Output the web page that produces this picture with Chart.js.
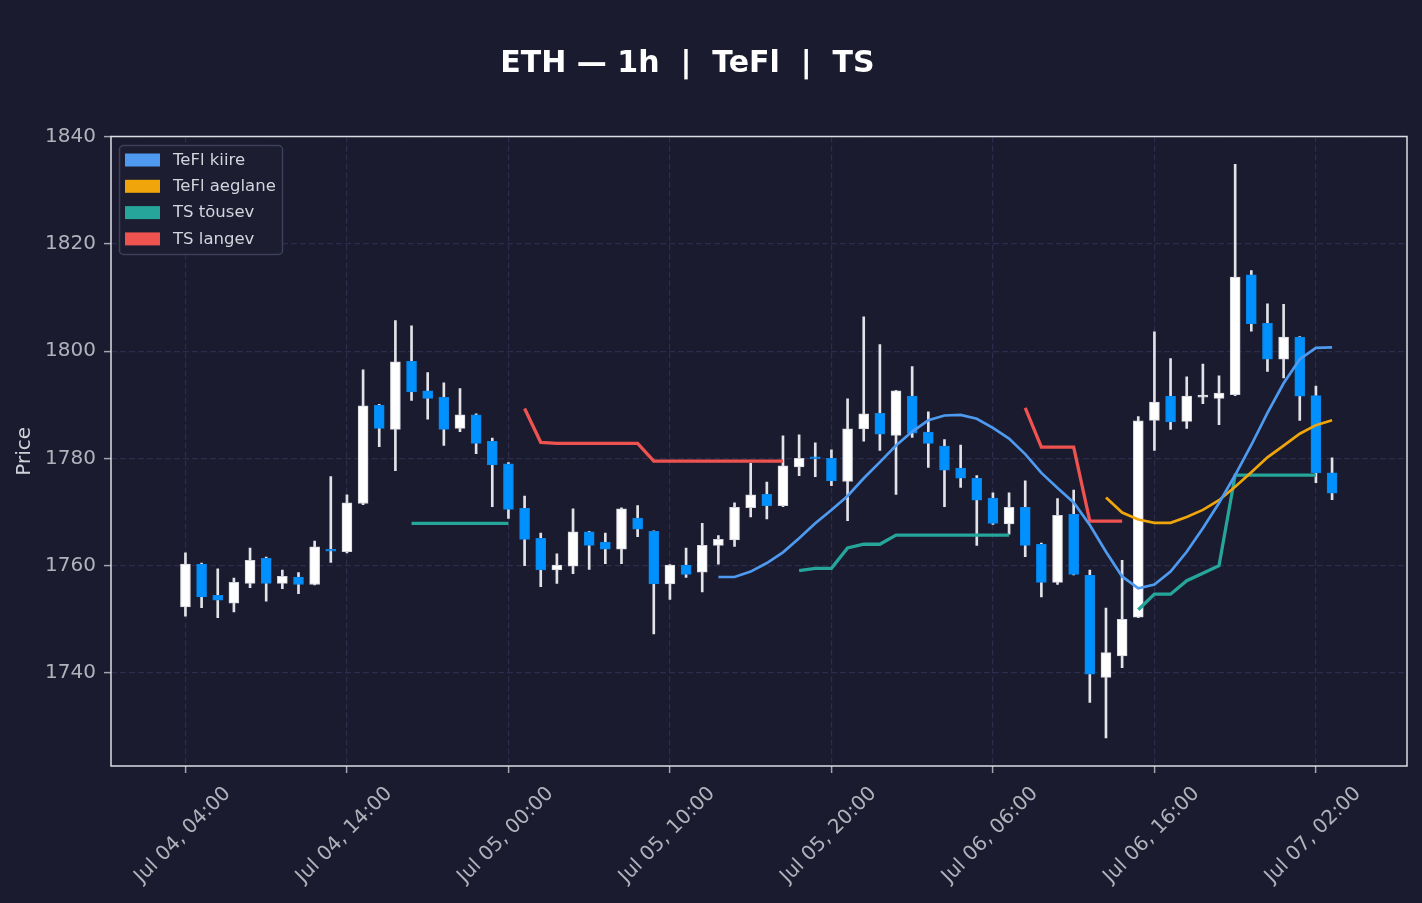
<!DOCTYPE html>
<html>
<head>
<meta charset="utf-8">
<title>ETH — 1h | TeFl | TS</title>
<script src="https://cdn.jsdelivr.net/npm/chart.js@4.4.1/dist/chart.umd.min.js"></script>
<style>
  html, body { margin: 0; padding: 0; background: #1a1b2e; }
  #wrap { width: 1422px; height: 903px; }
</style>
</head>
<body>
<div id="wrap"><canvas id="chart" width="1422" height="903"></canvas></div>
<script>
// hours since Jul 04 04:00, one candle per hour (0..71)
const tickHours = [0, 10, 20, 30, 40, 50, 60, 70];
const tickLabels = ["Jul 04, 04:00", "Jul 04, 14:00", "Jul 05, 00:00", "Jul 05, 10:00",
  "Jul 05, 20:00", "Jul 06, 06:00", "Jul 06, 16:00", "Jul 07, 02:00"];
const priceTicks = [1740, 1760, 1780, 1800, 1820, 1840];

const opens = [
  1752.3, 1760.3, 1754.5, 1753.0, 1756.7, 1761.4, 1756.7, 1757.9, 1756.5, 1762.9,
  1762.6, 1771.6, 1789.9, 1785.4, 1798.1, 1792.6, 1791.4, 1785.6, 1788.1, 1783.2,
  1779.0, 1770.7, 1765.1, 1759.2, 1759.9, 1766.3, 1764.4, 1763.1, 1768.9, 1766.4,
  1756.6, 1760.1, 1758.8, 1763.8, 1764.8, 1770.8, 1773.3, 1771.2, 1778.4, 1780.1,
  1780.0, 1775.7, 1785.5, 1788.4, 1784.3, 1791.6, 1784.9, 1782.3, 1778.2, 1776.3,
  1772.6, 1767.8, 1770.9, 1764.0, 1756.9, 1769.6, 1758.2, 1739.2, 1743.2, 1750.4,
  1787.1, 1791.6, 1786.9, 1791.4, 1791.2, 1791.9, 1814.2, 1805.2, 1798.5, 1802.6,
  1791.7, 1777.3
];
const highs = [
  1762.4, 1760.5, 1759.4, 1757.7, 1763.3, 1761.6, 1759.2, 1758.7, 1764.6, 1776.6,
  1773.2, 1796.5, 1790.1, 1805.7, 1804.7, 1796.0, 1794.1, 1793.0, 1788.3, 1783.8,
  1779.2, 1773.0, 1766.1, 1762.2, 1770.6, 1766.4, 1766.1, 1770.8, 1771.2, 1766.5,
  1760.2, 1763.3, 1767.9, 1765.6, 1771.7, 1779.1, 1775.6, 1784.2, 1784.4, 1782.9,
  1781.6, 1791.1, 1806.4, 1801.2, 1792.7, 1797.1, 1788.7, 1783.5, 1782.5, 1776.8,
  1773.6, 1773.6, 1775.8, 1764.2, 1772.5, 1774.1, 1759.2, 1752.1, 1761.0, 1787.8,
  1803.6, 1798.6, 1795.2, 1797.6, 1795.4, 1834.8, 1815.0, 1808.8, 1808.7, 1802.7,
  1793.5, 1780.1
];
const lows = [
  1750.6, 1752.2, 1750.3, 1751.4, 1755.9, 1753.4, 1755.7, 1754.8, 1756.4, 1760.6,
  1762.4, 1771.4, 1782.2, 1777.7, 1790.8, 1787.3, 1782.4, 1785.0, 1780.9, 1771.0,
  1768.8, 1760.0, 1756.1, 1756.7, 1758.5, 1759.3, 1760.4, 1760.4, 1765.4, 1747.3,
  1753.7, 1757.8, 1755.1, 1760.3, 1763.6, 1769.1, 1768.7, 1771.0, 1776.8, 1776.6,
  1774.9, 1768.4, 1783.2, 1781.5, 1773.3, 1783.9, 1778.3, 1771.0, 1774.6, 1763.8,
  1767.7, 1765.9, 1761.7, 1754.2, 1756.5, 1758.3, 1734.5, 1727.9, 1741.0, 1750.3,
  1781.5, 1785.4, 1785.6, 1790.2, 1786.3, 1791.7, 1803.7, 1796.2, 1795.0, 1787.1,
  1775.5, 1772.3
];
const closes = [
  1760.3, 1754.2, 1753.6, 1756.9, 1761.0, 1756.7, 1758.0, 1756.5, 1763.5, 1762.7,
  1771.7, 1789.8, 1785.6, 1798.0, 1792.4, 1791.2, 1785.4, 1788.1, 1782.8, 1778.8,
  1770.5, 1764.9, 1759.2, 1760.1, 1766.3, 1763.8, 1763.1, 1770.6, 1766.8, 1756.6,
  1760.1, 1758.4, 1763.8, 1764.9, 1770.9, 1773.2, 1771.2, 1778.6, 1780.0, 1779.9,
  1775.8, 1785.5, 1788.3, 1784.5, 1792.6, 1784.7, 1782.8, 1777.8, 1776.3, 1772.2,
  1767.9, 1770.9, 1763.8, 1756.9, 1769.4, 1758.4, 1739.8, 1743.8, 1750.0, 1787.0,
  1790.5, 1786.8, 1791.6, 1791.8, 1792.2, 1813.8, 1805.1, 1798.5, 1802.6, 1791.6,
  1777.3, 1773.5
];

const teflKiire = [
  null, null, null, null, null, null, null, null, null, null,
  null, null, null, null, null, null, null, null, null, null,
  null, null, null, null, null, null, null, null, null, null,
  null, null, null, 1757.9, 1757.9, 1758.9, 1760.5, 1762.5, 1765.1, 1767.9,
  1770.4, 1773.0, 1776.3, 1779.3, 1782.4, 1785.0, 1787.1, 1788.0, 1788.1, 1787.4,
  1785.7, 1783.7, 1780.8, 1777.3, 1774.5, 1771.8, 1767.6, 1762.6, 1758.0, 1755.8,
  1756.5, 1758.9, 1762.6, 1767.0, 1771.7, 1776.9, 1782.5, 1788.5, 1794.0, 1798.5,
  1800.6, 1800.7
];
const teflAeglane = [
  null, null, null, null, null, null, null, null, null, null,
  null, null, null, null, null, null, null, null, null, null,
  null, null, null, null, null, null, null, null, null, null,
  null, null, null, null, null, null, null, null, null, null,
  null, null, null, null, null, null, null, null, null, null,
  null, null, null, null, null, null, null, 1772.7, 1769.9, 1768.6,
  1768.0, 1768.0, 1769.1, 1770.4, 1772.2, 1774.7, 1777.4, 1780.2, 1782.4, 1784.6,
  1786.2, 1787.1
];
const tsTousev = [
  null, null, null, null, null, null, null, null, null, null,
  null, null, null, null, 1767.9, 1767.9, 1767.9, 1767.9, 1767.9, 1767.9,
  1767.9, null, null, null, null, null, null, null, null, null,
  null, null, null, null, null, null, null, null, 1759.1, 1759.5,
  1759.5, 1763.3, 1764.0, 1764.0, 1765.7, 1765.7, 1765.7, 1765.7, 1765.7, 1765.7,
  1765.7, 1765.7, null, null, null, null, null, null, null, 1751.8,
  1754.7, 1754.7, 1757.2, 1758.6, 1760.0, 1776.9, 1776.9, 1776.9, 1776.9, 1776.9,
  1776.9, null
];
const tsLangev = [
  null, null, null, null, null, null, null, null, null, null,
  null, null, null, null, null, null, null, null, null, null,
  null, 1789.3, 1783.0, 1782.8, 1782.8, 1782.8, 1782.8, 1782.8, 1782.8, 1779.5,
  1779.5, 1779.5, 1779.5, 1779.5, 1779.5, 1779.5, 1779.5, 1779.5, null, null,
  null, null, null, null, null, null, null, null, null, null,
  null, null, 1789.4, 1782.1, 1782.1, 1782.1, 1768.3, 1768.3, 1768.3, null,
  null, null, null, null, null, null, null, null, null, null,
  null, null
];

const GRID = '#2c2d4c';
const TICK = '#a4a4ae';
const TXT = '#b2b2bc';
const UP = '#ffffff';
const DOWN = '#0091ff';

const isUp = i => closes[i] >= opens[i];
const toPoints = arr => arr.map((v, i) => ({ x: i, y: v }));
const bodyData = opens.map((o, i) => ({ x: i, y: [o, closes[i]] }));
const wickData = lows.map((l, i) => ({ x: i, y: [l, highs[i]] }));

Chart.defaults.font.family = '"DejaVu Sans", sans-serif';

const lineSet = (label, data, color, width) => ({
  type: 'line', label, data: toPoints(data), borderColor: color, backgroundColor: color,
  borderWidth: width, pointRadius: 0, tension: 0, spanGaps: false, order: 0, isIndicator: true
});

// plot frame on all four sides
const frame = {
  id: 'frame',
  afterDatasetsDraw(chart) {
    const { ctx, chartArea: a } = chart;
    ctx.save();
    ctx.strokeStyle = '#dddde3';
    ctx.lineWidth = 1.5;
    ctx.strokeRect(a.left, a.top, a.right - a.left, a.bottom - a.top);
    ctx.restore();
  }
};

// boxed legend in the upper left of the plot
const legendBox = {
  id: 'legendBox',
  afterDraw(chart) {
    const ctx = chart.ctx;
    const items = chart.data.datasets.filter(d => d.isIndicator);
    ctx.save();
    ctx.beginPath();
    ctx.roundRect(119.5, 145.5, 163, 109, 4);
    ctx.fillStyle = '#1c1d31';
    ctx.fill();
    ctx.strokeStyle = '#3e3f5c';
    ctx.lineWidth = 1.5;
    ctx.stroke();
    ctx.font = '16.5px "DejaVu Sans"';
    ctx.textBaseline = 'middle';
    items.forEach((d, k) => {
      const cy = 160 + k * 26.3;
      ctx.fillStyle = d.borderColor;
      ctx.fillRect(125, cy - 6.5, 35, 13);
      ctx.fillStyle = '#d4d4dc';
      ctx.fillText(d.label, 173, cy + 0.5);
    });
    ctx.restore();
  }
};

const titleText = {
  id: 'titleText',
  afterDraw(chart) {
    const ctx = chart.ctx;
    ctx.save();
    ctx.font = 'bold 30px "DejaVu Sans"';
    ctx.fillStyle = '#ffffff';
    ctx.textAlign = 'center';
    ctx.textBaseline = 'alphabetic';
    ctx.fillText('ETH — 1h  |  TeFl  |  TS', 687.5, 72);
    ctx.restore();
  }
};

new Chart(document.getElementById('chart'), {
  type: 'bar',
  data: {
    datasets: [
      lineSet('TeFl kiire', teflKiire, '#4d9af0', 2.7),
      lineSet('TeFl aeglane', teflAeglane, '#f0a50a', 2.7),
      lineSet('TS tõusev', tsTousev, '#26a69a', 3.3),
      lineSet('TS langev', tsLangev, '#ef5350', 3.3),
      {
        type: 'bar', label: 'body', data: bodyData, grouped: false,
        barThickness: 10, minBarLength: 2, borderSkipped: false, borderWidth: 1,
        backgroundColor: ctx => isUp(ctx.dataIndex) ? UP : DOWN,
        borderColor: ctx => isUp(ctx.dataIndex) ? '#d4d4dc' : '#0a84e6',
        order: 5
      },
      {
        type: 'bar', label: 'wick', data: wickData, grouped: false,
        barThickness: 2, borderWidth: 0, backgroundColor: '#e2e2e8',
        order: 6
      }
    ]
  },
  options: {
    responsive: false,
    animation: false,
    layout: { padding: { top: 136.5, right: 15, bottom: 0, left: 0 } },
    plugins: {
      legend: { display: false },
      title: { display: false },
      tooltip: { enabled: false }
    },
    scales: {
      x: {
        type: 'linear', min: -4.61, max: 75.64, offset: false,
        afterBuildTicks: s => { s.ticks = tickHours.map(v => ({ value: v })); },
        afterFit: s => { s.height = 137; },
        grid: { color: GRID, lineWidth: 1.2, offset: false, tickLength: 7, tickColor: TICK, tickWidth: 1.5 },
        border: { display: false, dash: [6, 3] },
        ticks: {
          autoSkip: false, minRotation: 45, maxRotation: 45, labelOffset: 42, padding: 9,
          color: TXT, font: { size: 20 },
          callback: v => tickLabels[tickHours.indexOf(v)]
        }
      },
      y: {
        type: 'linear', min: 1722.67, max: 1840,
        afterBuildTicks: s => { s.ticks = priceTicks.map(v => ({ value: v })); },
        afterFit: s => { s.width = 111; },
        grid: { color: GRID, lineWidth: 1.2, tickLength: 7, tickColor: TICK, tickWidth: 1.5 },
        border: { display: false, dash: [6, 3] },
        title: { display: true, text: 'Price', color: '#d0d0d8', font: { size: 20 }, padding: { top: 13, bottom: 0 } },
        ticks: { color: TXT, font: { size: 20 }, padding: 8, callback: v => String(v) }
      }
    }
  },
  plugins: [frame, legendBox, titleText]
});
</script>
</body>
</html>
